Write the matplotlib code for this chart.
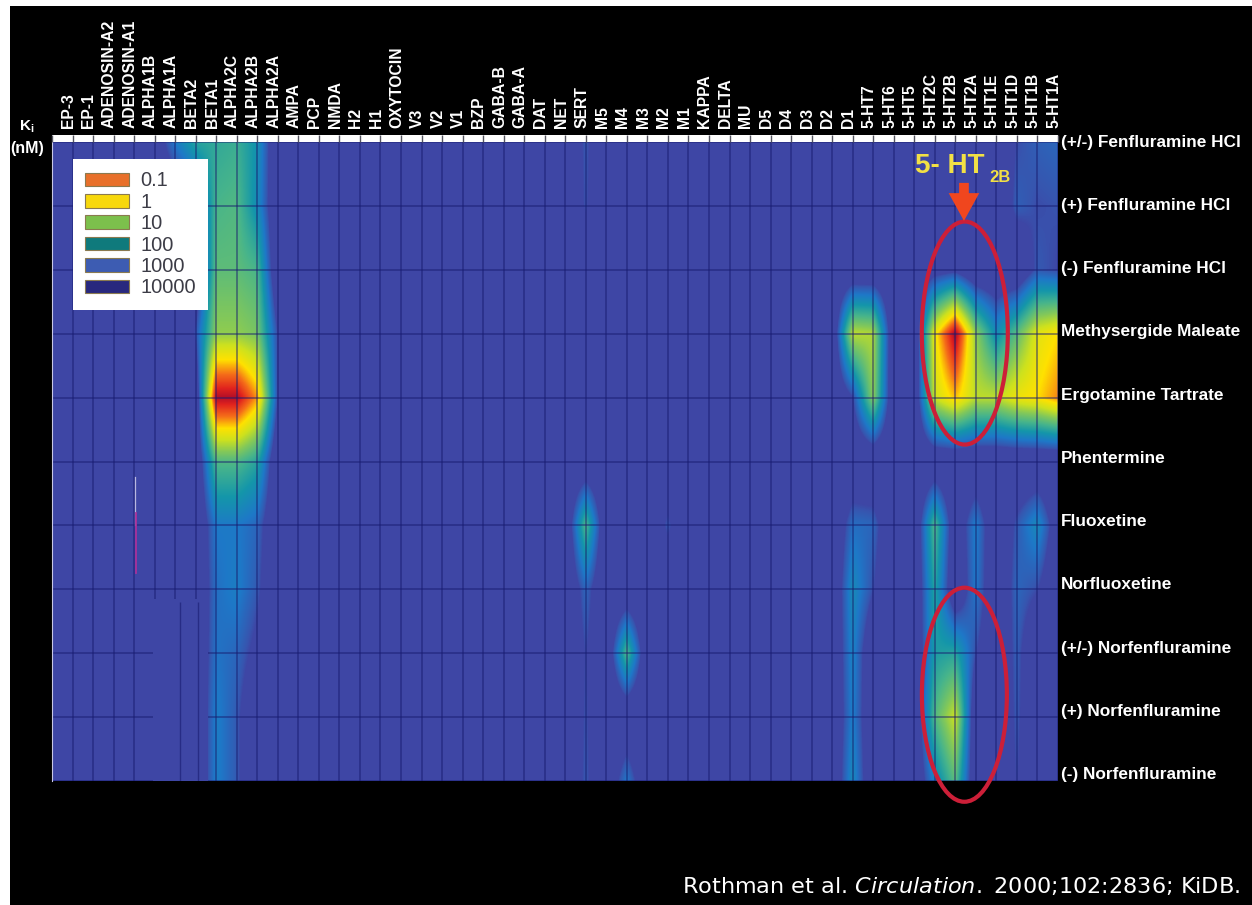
import numpy as np
import matplotlib
matplotlib.use('Agg')
import matplotlib.pyplot as plt
from matplotlib.colors import LinearSegmentedColormap, Normalize
from matplotlib.patches import Ellipse, Patch, Rectangle

# Receptors, left to right
receptors = ['EP-3', 'EP-1', 'ADENOSIN-A2', 'ADENOSIN-A1', 'ALPHA1B', 'ALPHA1A', 'BETA2', 'BETA1',
             'ALPHA2C', 'ALPHA2B', 'ALPHA2A', 'AMPA', 'PCP', 'NMDA', 'H2', 'H1', 'OXYTOCIN', 'V3',
             'V2', 'V1', 'BZP', 'GABA-B', 'GABA-A', 'DAT', 'NET', 'SERT', 'M5', 'M4', 'M3', 'M2',
             'M1', 'KAPPA', 'DELTA', 'MU', 'D5', 'D4', 'D3', 'D2', 'D1', '5-HT7', '5-HT6', '5-HT5',
             '5-HT2C', '5-HT2B', '5-HT2A', '5-HT1E', '5-HT1D', '5-HT1B', '5-HT1A']

drugs = ['(+/-) Fenfluramine HCl', '(+) Fenfluramine HCl', '(-) Fenfluramine HCl',
         'Methysergide Maleate', 'Ergotamine Tartrate', 'Phentermine', 'Fluoxetine',
         'Norfluoxetine', '(+/-) Norfenfluramine', '(+) Norfenfluramine', '(-) Norfenfluramine']

# Ki (nM), ten receptors per line
fen_racemic = [5000, 5000, 5000, 5000, 3000, 300, 60, 50, 40, 120,
               5000, 5000, 5000, 5000, 5000, 5000, 5000, 5000, 5000, 5000,
               5000, 5000, 5000, 5000, 5000, 700, 5000, 900, 5000, 5000,
               5000, 5000, 5000, 5000, 5000, 5000, 5000, 5000, 5000, 5000,
               5000, 5000, 5000, 5000, 5000, 5000, 900, 600, 500]
fen_plus = [5000, 5000, 5000, 5000, 5000, 5000, 1500, 30, 25, 150,
            5000, 5000, 5000, 5000, 5000, 5000, 5000, 5000, 5000, 5000,
            5000, 5000, 5000, 5000, 5000, 800, 5000, 5000, 5000, 5000,
            5000, 5000, 5000, 5000, 5000, 5000, 5000, 5000, 5000, 5000,
            5000, 5000, 5000, 5000, 5000, 5000, 600, 900, 800]
fen_minus = [5000, 5000, 5000, 5000, 5000, 5000, 5000, 20, 20, 30,
             5000, 5000, 5000, 5000, 5000, 5000, 5000, 5000, 5000, 5000,
             5000, 5000, 5000, 5000, 5000, 5000, 5000, 5000, 5000, 5000,
             5000, 5000, 5000, 5000, 5000, 5000, 5000, 5000, 5000, 5000,
             5000, 5000, 2000, 1500, 5000, 5000, 5000, 700, 1000]
methysergide = [5000, 5000, 5000, 5000, 5000, 5000, 800, 8, 8, 12,
                1000, 5000, 5000, 5000, 5000, 5000, 5000, 5000, 5000, 5000,
                5000, 5000, 5000, 5000, 5000, 5000, 5000, 5000, 5000, 5000,
                5000, 5000, 5000, 5000, 5000, 5000, 5000, 5000, 4, 5,
                5000, 5000, 1.5, 0.04, 8, 150, 20, 2, 1.0]
ergotamine = [5000, 5000, 5000, 5000, 5000, 5000, 5000, 0.05, 0.05, 0.5,
              1000, 5000, 5000, 5000, 5000, 5000, 5000, 5000, 5000, 5000,
              5000, 5000, 5000, 5000, 5000, 5000, 5000, 5000, 5000, 5000,
              5000, 5000, 5000, 5000, 5000, 5000, 5000, 5000, 1000, 8,
              5000, 5000, 3, 0.7, 4, 4, 1.5, 1, 0.4]
phentermine = [5000, 5000, 5000, 5000, 5000, 5000, 5000, 25, 25, 60,
               5000, 5000, 5000, 5000, 5000, 5000, 5000, 5000, 5000, 5000,
               5000, 5000, 5000, 5000, 5000, 5000, 5000, 5000, 5000, 5000,
               5000, 5000, 5000, 5000, 5000, 5000, 5000, 5000, 5000, 5000,
               5000, 5000, 5000, 5000, 5000, 5000, 5000, 5000, 5000]
fluoxetine = [5000, 5000, 5000, 5000, 5000, 5000, 5000, 300, 300, 500,
              5000, 5000, 5000, 5000, 5000, 5000, 5000, 5000, 5000, 5000,
              5000, 5000, 5000, 5000, 5000, 25, 5000, 5000, 5000, 700,
              5000, 5000, 5000, 5000, 5000, 5000, 5000, 5000, 400, 500,
              5000, 5000, 25, 4000, 250, 5000, 700, 150, 3000]
norfluoxetine = [5000, 5000, 5000, 5000, 5000, 5000, 5000, 400, 250, 700,
                 5000, 5000, 5000, 5000, 5000, 5000, 5000, 5000, 5000, 5000,
                 5000, 5000, 5000, 5000, 5000, 500, 5000, 5000, 5000, 5000,
                 5000, 5000, 5000, 5000, 5000, 5000, 5000, 5000, 150, 900,
                 5000, 5000, 60, 5000, 300, 5000, 500, 900, 5000]
norfen_racemic = [5000, 5000, 5000, 5000, 5000, 5000, 5000, 350, 500, 1500,
                  5000, 5000, 5000, 5000, 5000, 5000, 5000, 5000, 5000, 5000,
                  5000, 5000, 5000, 5000, 5000, 900, 5000, 25, 5000, 5000,
                  5000, 5000, 5000, 5000, 5000, 5000, 5000, 5000, 200, 5000,
                  5000, 5000, 80, 60, 900, 5000, 600, 5000, 5000]
norfen_plus = [5000, 5000, 5000, 5000, 5000, 5000, 5000, 250, 700, 5000,
               5000, 5000, 5000, 5000, 5000, 5000, 5000, 5000, 5000, 5000,
               5000, 5000, 5000, 5000, 5000, 800, 5000, 5000, 5000, 5000,
               5000, 5000, 5000, 5000, 5000, 5000, 5000, 5000, 250, 5000,
               5000, 5000, 25, 3, 5000, 5000, 700, 5000, 5000]
norfen_minus = [5000, 5000, 5000, 5000, 5000, 5000, 5000, 250, 700, 5000,
                5000, 5000, 5000, 5000, 5000, 5000, 5000, 5000, 5000, 5000,
                5000, 5000, 5000, 5000, 5000, 700, 5000, 300, 5000, 5000,
                5000, 5000, 5000, 5000, 5000, 5000, 5000, 5000, 150, 5000,
                5000, 5000, 200, 20, 5000, 5000, 900, 5000, 5000]

legend_labels = ['0.1', '1', '10', '100', '1000', '10000']
legend_colors = ['#e8702a', '#f7d80c', '#7cc04c', '#0f7a7c', '#3d5cb2', '#28287e']

# colour ramp against log10(Ki), flat once it reaches the background blue
ramp_logs = [-1.7, -1.3, -1.0, -0.5, 0.0, 0.5, 1.0, 1.5, 2.0, 2.5, 2.9, 3.0, 4.0]
ramp_colors = ['#96143c', '#b40f28', '#e1231e', '#f56e19', '#ffe100', '#cde11e', '#82c85a',
               '#46b48c', '#1496aa', '#1e78c8', '#3755af', '#3e46a5', '#3e46a5']

grid_navy = '#181c70'

W, H = 1252, 905
fig = plt.figure(figsize=(W / 100, H / 100), dpi=100, facecolor='white')
fig.patches.append(Rectangle((10 / W, 0), (W - 10) / W, 899 / H, transform=fig.transFigure,
                             facecolor='black', edgecolor='none', zorder=-5))

ax = fig.add_axes([52 / W, 1 - 781 / H, 1006 / W, 639 / H])
ax.set_facecolor('#3e46a5')

# data, with the blank first column left of EP-3
rows = [fen_racemic, fen_plus, fen_minus, methysergide, ergotamine, phentermine, fluoxetine,
        norfluoxetine, norfen_racemic, norfen_plus, norfen_minus]
grid = np.log10(np.array(rows, dtype=float))
grid = np.column_stack([grid[:, 0], grid])

lo, hi = ramp_logs[0], ramp_logs[-1]
stops = [(v - lo) / (hi - lo) for v in ramp_logs]
cmap = LinearSegmentedColormap.from_list('ki', list(zip(stops, ramp_colors)), N=512)
ax.imshow(grid, cmap=cmap, norm=Normalize(lo, hi), interpolation='bilinear', aspect='auto',
          extent=(-1.5, 48.5, 10.5, -0.5), zorder=0)
ax.set_xlim(-1, 48)
ax.set_ylim(10, 0)

ax.set_xticks(np.arange(-1, 49))
ax.set_yticks(np.arange(0, 11))
ax.tick_params(length=0, labelbottom=False, labelleft=False)
ax.grid(True, color=grid_navy, linewidth=1.1, alpha=0.6)
for name in ['top', 'right', 'bottom']:
    ax.spines[name].set_visible(False)
ax.spines['left'].set_color('#c8c8e6')
ax.spines['left'].set_linewidth(0.8)

# retouched patch at lower left, and the pink sliver under ADENOSIN-A1
ax.add_patch(Rectangle((3.9, 7.15), 2.7, 2.85, facecolor='#3e46a5', edgecolor='none', zorder=3))
ax.vlines([5.25, 6.1], 7.2, 10, color=grid_navy, linewidth=1.0, alpha=0.6, zorder=3.1)
ax.plot([3.03, 3.03], [5.25, 6.0], color='#b8b8e0', linewidth=0.9, zorder=3)
ax.plot([3.08, 3.08], [5.8, 6.75], color='#a8309a', linewidth=1.3, zorder=3)

# white strip with tick marks along the top
ax.add_patch(Rectangle((-1, -0.11), 49, 0.11, facecolor='white', edgecolor='none', clip_on=False, zorder=4))
ax.vlines(np.arange(-1, 49), -0.11, 0, color='#555560', linewidth=1.0, clip_on=False, zorder=5)

# receptor labels
for i, name in enumerate(receptors):
    ax.annotate(name, (i, 0), xytext=(-3, 10), textcoords='offset points', rotation=90,
                ha='center', va='bottom', color='white', fontsize=11.3, fontweight='bold',
                family=['Liberation Sans Narrow', 'Liberation Sans'], annotation_clip=False)

# drug labels
for i, name in enumerate(drugs):
    ax.annotate(name, (48, i * 0.99), xytext=(2, 0), textcoords='offset points', ha='left', va='center',
                color='white', fontsize=12.4, fontweight='bold', family='Liberation Sans',
                annotation_clip=False)

fig.text(27 / W, 1 - 127 / H, r'K$_{\mathregular{i}}$', color='white', fontsize=11, fontweight='bold',
         family='Liberation Sans', ha='center', va='center')
fig.text(27 / W, 1 - 149 / H, '(nM)', color='white', fontsize=11.5, fontweight='bold',
         family='Liberation Sans', ha='center', va='center')

# legend
handles = [Patch(facecolor=c, edgecolor='#8a7a50', linewidth=0.8) for c in legend_colors]
leg = ax.legend(handles, legend_labels, loc='upper left', bbox_to_anchor=(21 / 1006, 1 - 17 / 639),
                borderaxespad=0, fancybox=False, framealpha=1, facecolor='white', edgecolor='none',
                handlelength=2.2, handleheight=0.66, labelspacing=0.12,
                handletextpad=0.55, borderpad=0.62, prop={'family': 'Liberation Sans', 'size': 14.4})
leg.set_zorder(6)
for t in leg.get_texts():
    t.set_color('#3c3c46')

# the 5-HT2B call-out
red = '#cc1f38'
ax.add_patch(Ellipse((43.46, 2.99), 4.19, 3.49, fill=False, edgecolor=red, linewidth=3.0, clip_on=False, zorder=7))
ax.add_patch(Ellipse((43.44, 8.65), 4.14, 3.35, fill=False, edgecolor=red, linewidth=3.0, clip_on=False, zorder=7))
ax.annotate('', xy=(43.42, 1.235), xytext=(43.42, 0.64),
            arrowprops=dict(width=7, headwidth=22, headlength=20, shrink=0, color='#f0461e', linewidth=0), zorder=8)
ax.text(41.03, 0.38, '5- HT', color='#f2e045', fontsize=20, fontweight='bold', family='Liberation Sans',
        ha='left', va='center', zorder=8)
ax.text(44.68, 0.55, '2B', color='#f2e045', fontsize=12, fontweight='bold', family='Liberation Sans',
        ha='left', va='center', zorder=8)

plt.rcParams['mathtext.fontset'] = 'dejavusans'
fig.text(1240 / W, 1 - 886 / H, r'Rothman et al. $\mathit{Circulation.}$ 2000;102:2836; KiDB.', color='white',
         fontsize=16.1, family='DejaVu Sans', ha='right', va='center')

fig.savefig('out.png', dpi=100, facecolor=fig.get_facecolor())
